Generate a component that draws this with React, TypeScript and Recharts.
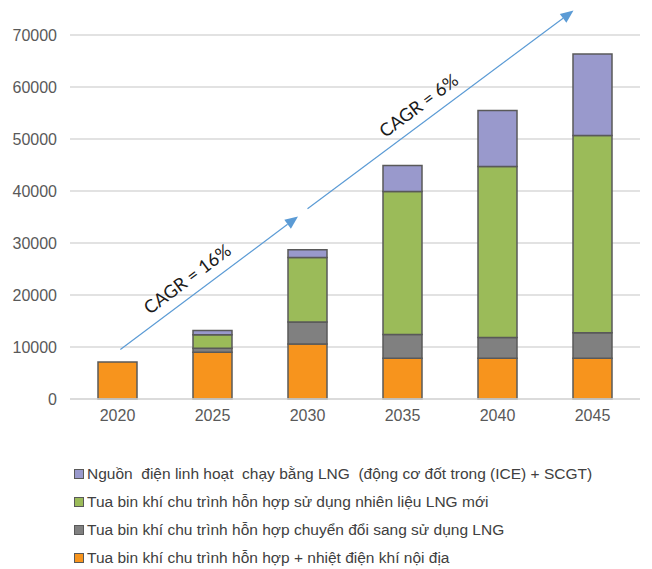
import {
  ComposedChart,
  Bar,
  XAxis,
  YAxis,
  CartesianGrid,
  ReferenceLine,
} from 'recharts';

const years = ['2020', '2025', '2030', '2035', '2040', '2045'];
const domesticGas = [7100, 9000, 10600, 7850, 7850, 7850];
const convertedLng = [0, 750, 4200, 4550, 4000, 4900];
const newLng = [0, 2600, 12400, 27500, 32850, 37900];
const flexibleLng = [0, 800, 1500, 5000, 10800, 15700];
const yTicks = [0, 10000, 20000, 30000, 40000, 50000, 60000, 70000];

const seriesNames = [
  'Nguồn  điện linh hoạt  chạy bằng LNG  (động cơ đốt trong (ICE) + SCGT)',
  'Tua bin khí chu trình hỗn hợp sử dụng nhiên liệu LNG mới',
  'Tua bin khí chu trình hỗn hợp chuyển đổi sang sử dụng LNG',
  'Tua bin khí chu trình hỗn hợp + nhiệt điện khí nội địa',
];
const seriesColors = ['#9999CC', '#9BBB59', '#808080', '#F7941D'];

// growth arrows, in (category position, value) space; category i is centred at i + 0.5
const arrowLabels = ['CAGR = 16%', 'CAGR = 6%'];
const arrowStartX = [0.53, 2.5];
const arrowStartY = [9500, 36600];
const arrowEndX = [2.4, 5.3];
const arrowEndY = [35100, 74700];

const data = years.map((year, i) => ({
  year,
  pos: i + 0.5,
  domestic: domesticGas[i],
  converted: convertedLng[i],
  newLng: newLng[i],
  flexible: flexibleLng[i],
}));

const makeArrow = (label: string) => (props: any) => {
  const { x1, y1, x2, y2 } = props;
  const dx = x2 - x1;
  const dy = y2 - y1;
  const len = Math.sqrt(dx * dx + dy * dy);
  const ux = dx / len;
  const uy = dy / len;
  const head = 13;
  const half = 5.5;
  const bx = x2 - ux * head;
  const by = y2 - uy * head;
  const angle = (Math.atan2(dy, dx) * 180) / Math.PI;
  // text sits above the line, a bit before its middle
  const mx = (x1 + x2) / 2 - ux * 15 + uy * 17;
  const my = (y1 + y2) / 2 - uy * 15 - ux * 17;
  return (
    <g>
      <line x1={x1} y1={y1} x2={bx} y2={by} stroke="#5B9BD5" strokeWidth={1.2} />
      <polygon
        points={`${x2},${y2} ${bx - uy * half},${by + ux * half} ${bx + uy * half},${by - ux * half}`}
        fill="#5B9BD5"
      />
      <text
        x={mx}
        y={my}
        textAnchor="middle"
        dominantBaseline="central"
        transform={`rotate(${angle} ${mx} ${my})`}
        fontFamily="Lato, 'Open Sans', sans-serif"
        fontSize={18}
        fill="#1a1a1a"
      >
        {label}
      </text>
    </g>
  );
};

function LegendList() {
  return (
    <div
      style={{
        position: 'absolute',
        left: 74,
        top: 460,
        fontFamily: "'Liberation Sans', Arial, sans-serif",
        fontSize: 15.5,
        color: '#404040',
      }}
    >
      {seriesNames.map((name, i) => (
        <div key={name} style={{ display: 'flex', alignItems: 'center', height: 28 }}>
          <span
            style={{
              display: 'inline-block',
              width: 8,
              height: 8,
              background: seriesColors[i],
              border: '1.5px solid #595959',
              marginRight: 3,
            }}
          />
          <span style={{ whiteSpace: 'pre' }}>{name}</span>
        </div>
      ))}
    </div>
  );
}

export default function App() {
  return (
    <div style={{ position: 'absolute', left: 0, top: 0, width: 652, height: 569, background: '#fff' }}>
      <ComposedChart
        width={652}
        height={569}
        data={data}
        margin={{ top: 35, right: 12, bottom: 140, left: 0 }}
        barSize={39}
      >
        <CartesianGrid vertical={false} stroke="#D9D9D9" strokeWidth={1.5} />
        <XAxis
          dataKey="year"
          height={30}
          axisLine={{ stroke: '#D9D9D9', strokeWidth: 1.5 }}
          tickLine={false}
          tickMargin={5}
          tick={{ fontSize: 16, fill: '#595959', fontFamily: "'Liberation Sans', Arial, sans-serif" }}
        />
        <XAxis xAxisId="pos" dataKey="pos" type="number" domain={[0, 6]} hide allowDataOverflow />
        <YAxis
          width={70}
          domain={[0, 70000]}
          ticks={yTicks}
          axisLine={false}
          tickLine={false}
          tickMargin={7}
          tick={{ fontSize: 16, fill: '#595959', fontFamily: "'Liberation Sans', Arial, sans-serif" }}
        />
        <Bar dataKey="domestic" stackId="a" fill={seriesColors[3]} stroke="#595959" strokeWidth={1.5} isAnimationActive={false} />
        <Bar dataKey="converted" stackId="a" fill={seriesColors[2]} stroke="#595959" strokeWidth={1.5} isAnimationActive={false} />
        <Bar dataKey="newLng" stackId="a" fill={seriesColors[1]} stroke="#595959" strokeWidth={1.5} isAnimationActive={false} />
        <Bar dataKey="flexible" stackId="a" fill={seriesColors[0]} stroke="#595959" strokeWidth={1.5} isAnimationActive={false} />
        {arrowLabels.map((label, i) => (
          <ReferenceLine
            key={label}
            xAxisId="pos"
            ifOverflow="visible"
            segment={[
              { x: arrowStartX[i], y: arrowStartY[i] },
              { x: arrowEndX[i], y: arrowEndY[i] },
            ]}
            shape={makeArrow(label)}
          />
        ))}
      </ComposedChart>
      <LegendList />
    </div>
  );
}
